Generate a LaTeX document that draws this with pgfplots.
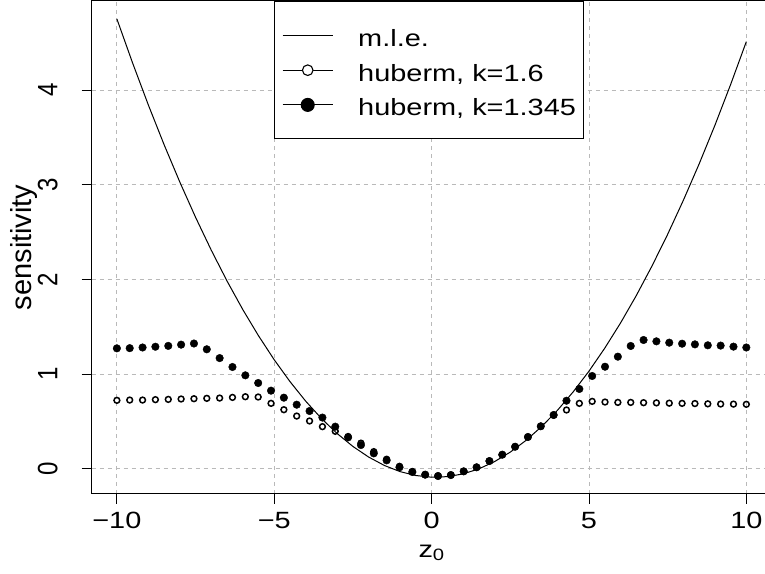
\documentclass[border=0pt]{standalone}
\usepackage{fontspec}
\setmainfont{Liberation Sans}[FakeStretch=1.23]
\newfontfamily\rotfont{Liberation Sans}[FakeStretch=0.86]
\newfontfamily\plainfont{Liberation Sans}
\usepackage{pgfplots}
\usepackage{pgfplotstable}
\pgfplotsset{compat=1.18}
\newcommand{\hfnt}{\fontsize{23.5bp}{28bp}\selectfont}
\newcommand{\rfnt}{\rotfont\fontsize{28bp}{32bp}\selectfont}
\newcommand{\lfnt}{\plainfont\fontsize{29bp}{33bp}\selectfont}

\pgfplotstableread{
x open filled
-10.000 0.722 1.271
-9.592 0.725 1.273
-9.184 0.725 1.280
-8.776 0.729 1.288
-8.367 0.732 1.297
-7.959 0.736 1.310
-7.551 0.739 1.322
-7.143 0.743 1.261
-6.735 0.746 1.168
-6.327 0.753 1.074
-5.918 0.760 0.986
-5.510 0.757 0.905
-5.102 0.690 0.824
-4.694 0.623 0.750
-4.286 0.556 0.676
-3.878 0.504 0.609
-3.469 0.444 0.540
-3.061 0.395 0.444
-2.653 0.340 0.331
-2.245 0.270 0.250
-1.837 0.180 0.162
-1.429 0.100 0.088
-1.020 0.025 0.015
-0.612 -0.030 -0.035
-0.204 -0.063 -0.063
0.204 -0.077 -0.077
0.612 -0.067 -0.067
1.020 -0.028 -0.028
1.429 0.015 0.015
1.837 0.081 0.081
2.245 0.148 0.148
2.653 0.232 0.232
3.061 0.335 0.335
3.469 0.448 0.448
3.878 0.567 0.567
4.286 0.620 0.718
4.694 0.690 0.842
5.102 0.711 0.979
5.510 0.704 1.077
5.918 0.700 1.183
6.327 0.700 1.296
6.735 0.697 1.359
7.143 0.695 1.345
7.551 0.692 1.331
7.959 0.690 1.320
8.367 0.688 1.313
8.776 0.685 1.303
9.184 0.683 1.300
9.592 0.682 1.289
10.000 0.680 1.280
}\hubertab

\pgfplotstableread{
x y
-10 4.750
-9.5 4.284
-9 3.841
-8.5 3.422
-8 3.027
-7.5 2.655
-7 2.307
-6.5 1.982
-6 1.681
-5.5 1.404
-5 1.150
-4.5 0.920
-4 0.713
-3.5 0.530
-3 0.371
-2.5 0.235
-2 0.123
-1.5 0.034
-1 -0.031
-0.5 -0.072
0 -0.090
0.5 -0.084
1 -0.055
1.5 -0.002
2 0.075
2.5 0.175
3 0.299
3.5 0.446
4 0.617
4.5 0.812
5 1.030
5.5 1.272
6 1.537
6.5 1.826
7 2.139
7.5 2.475
8 2.835
8.5 3.218
9 3.625
9.5 4.056
10 4.510
}\mletab

\begin{document}
\begin{tikzpicture}
\begin{axis}[
  scale only axis, width=679.8bp, height=492.7bp,
  xmin=-10.8, xmax=10.8, ymin=-0.264, ymax=4.939,
  axis line style={line width=1bp, black},
  tick pos=left, tick align=outside, major tick length=10bp,
  tick style={black, line width=0.8bp},
  xtick={-10,-5,0,5,10}, xticklabels={\textminus10,\textminus5,0,5,10},
  ytick={0,1,2,3,4}, yticklabels={0,1,2,3,4},
  xticklabel style={font=\hfnt, anchor=base, yshift=-24.6bp},
  yticklabel style={font=\rfnt, rotate=90, anchor=base, yshift=24.4bp},
  xlabel={z\textsubscript{0}},
  xlabel style={font=\hfnt, at={(axis description cs:0.5,0)}, anchor=base, yshift=-63.3bp},
  ylabel={sensitivity},
  ylabel style={font=\lfnt, at={(axis description cs:0,0.5)}, anchor=base, yshift=59.7bp},
  grid=major,
  major grid style={gray!55, dash pattern=on 4bp off 4bp, line width=0.8bp},
  legend cell align=left,
  legend style={at={(0.2682,1)}, anchor=north west, draw=black, line width=1bp,
    inner xsep=7.7bp, inner ysep=23bp, row sep=12.7bp, column sep=25bp, font=\hfnt,
    nodes={inner sep=0bp, text height=22bp, text depth=0bp}},
]
\addplot[black, line width=1bp,
  legend image code/.code={\draw[black, line width=1bp] (0bp,0bp) -- (50bp,0bp);}]
  table[x=x, y=y]{\mletab};
\addlegendentry{m.l.e.}
\addlegendimage{legend image code/.code={\draw[black, line width=1bp] (0bp,0bp) -- (50bp,0bp);
  \draw[black, line width=1.1bp, fill=white] (25bp,0bp) circle (5.3bp);}}
\addlegendentry{huberm, k=1.6}
\addlegendimage{legend image code/.code={\draw[black, line width=1bp] (0bp,0bp) -- (50bp,0bp);
  \fill[black] (25bp,0bp) circle (6.5bp);}}
\addlegendentry{huberm, k=1.345\hspace{12bp}}
\addplot[only marks, mark=o, mark size=2.9bp, mark options={line width=1.5bp, black}, forget plot]
  table[x=x, y=open]{\hubertab};
\addplot[only marks, mark=*, mark size=3.8bp, mark options={draw=black, fill=black, line width=0.4bp}, forget plot]
  table[x=x, y=filled]{\hubertab};
\end{axis}
\pgfresetboundingbox
\path ([xshift=-91.7bp,yshift=-80.3bp]current axis.south west) rectangle ([xshift=-6.5bp,yshift=1bp]current axis.north east);
\end{tikzpicture}
\end{document}
